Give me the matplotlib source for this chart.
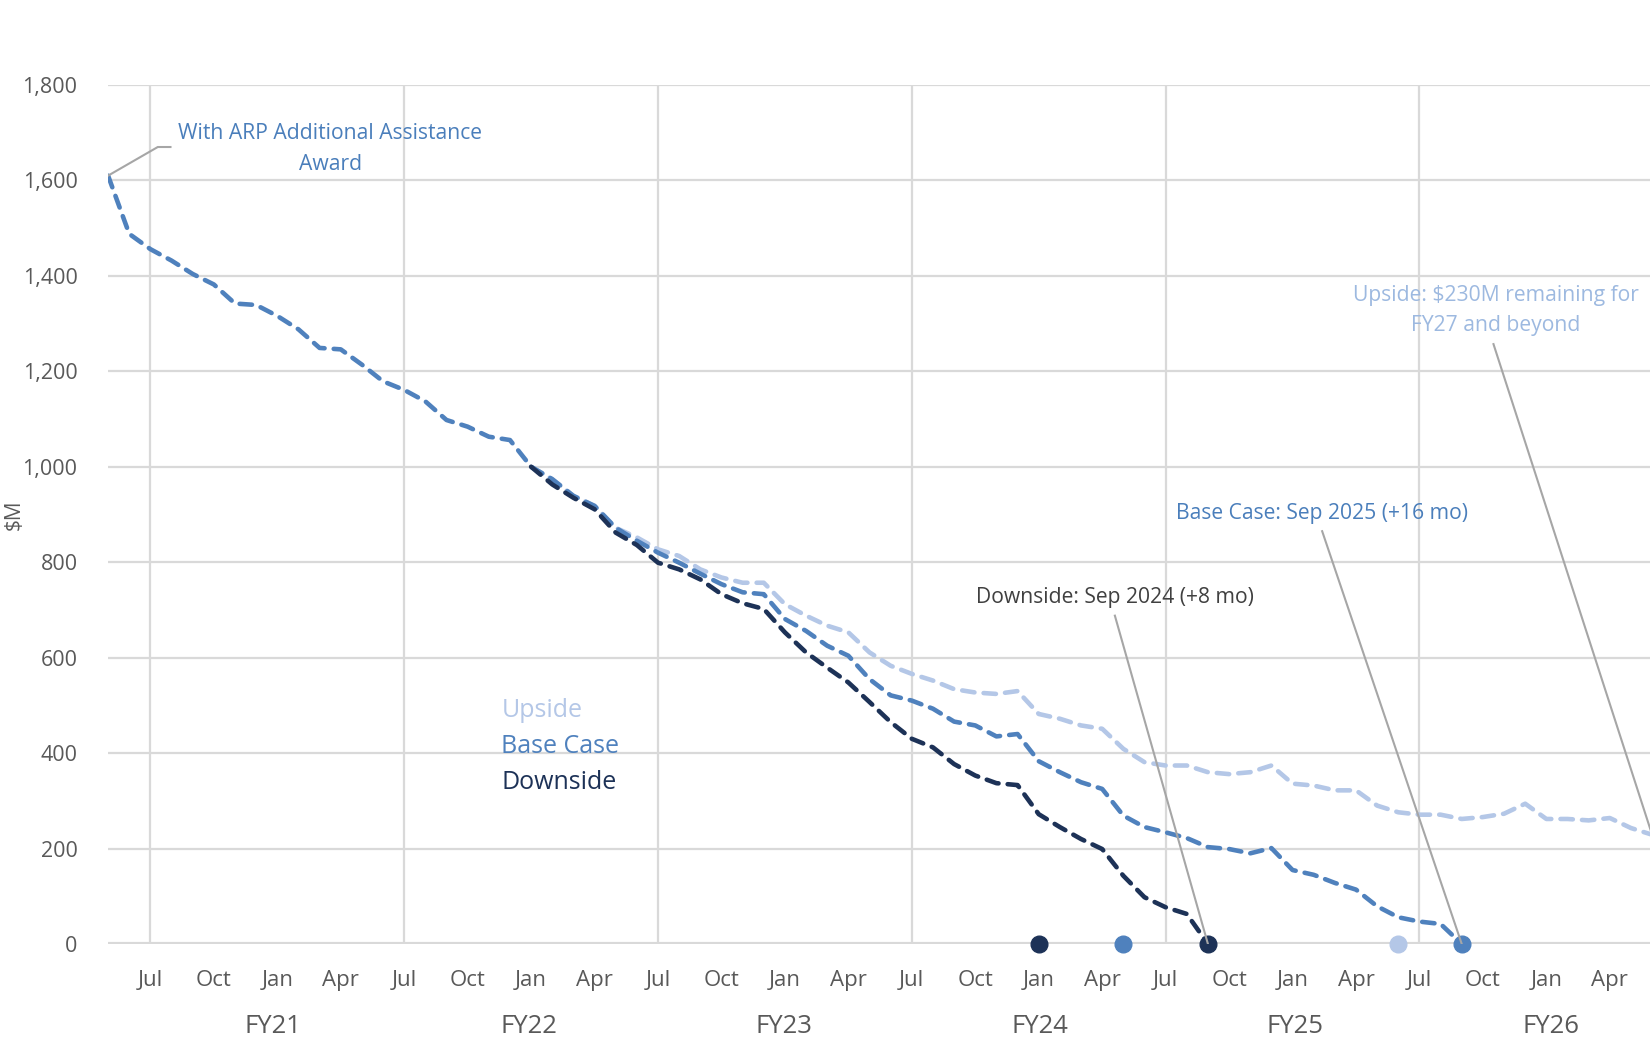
import pandas as pd
import matplotlib.pyplot as plt

plt.rcParams["font.family"] = ["Open Sans", "DejaVu Sans"]

# monthly axis, May 2020 .. Jun 2026
months = pd.period_range("2020-05", "2026-06", freq="M")

base_start = "2020-05"
base = [1610, 1488, 1456, 1432, 1404, 1382, 1342, 1339,
        1316, 1288, 1249, 1246, 1214, 1179, 1161, 1137, 1098, 1084, 1063, 1056,
        1000, 974, 939, 918, 872, 845, 820, 799, 776, 754, 737, 733,
        681, 656, 625, 604, 555, 521, 510, 493, 466, 458, 435, 440,
        383, 360, 339, 325, 269, 245, 234, 222, 203, 199, 190, 201,
        155, 145, 128, 114, 79, 56, 47, 42, 0]

downside_start = "2022-01"
downside = [1000, 963, 935, 911, 862, 836, 799, 785, 764, 733, 714, 702,
            653, 611, 579, 548, 507, 465, 430, 412, 377, 353, 337, 333,
            272, 245, 220, 199, 143, 98, 77, 63, 0]

upside_start = "2022-01"
upside = [1000, 974, 939, 918, 872, 852, 827, 813, 785, 768, 757, 757,
          712, 688, 667, 653, 611, 583, 566, 552, 534, 527, 524, 530,
          482, 472, 458, 451, 409, 381, 374, 374, 360, 356, 360, 374,
          336, 332, 322, 322, 290, 276, 271, 271, 262, 266, 273, 294,
          262, 262, 259, 264, 243, 229]

# original depletion dates (dots on the zero line)
orig_dates = ["2024-01", "2024-05", "2025-06"]
orig_cases = ["downside", "base", "upside"]

tick_labels = ["Jul", "Oct", "Jan", "Apr"]
fy_labels = ["FY21", "FY22", "FY23", "FY24", "FY25", "FY26"]

colors = {"upside": "#B4C7E7", "base": "#4F81BD", "downside": "#1D3257"}


def idx(m):
    return months.get_loc(pd.Period(m, freq="M"))


def xs(start, vals):
    s = idx(start)
    return list(range(s, s + len(vals)))


fig = plt.figure(figsize=(16.5, 10.4), dpi=100)
ax = fig.add_axes([0.0655, 0.0923, 0.9345, 0.826])

series = [("upside", upside_start, upside),
          ("base", base_start, base),
          ("downside", downside_start, downside)]
for name, start, vals in series:
    ax.plot(xs(start, vals), vals, color=colors[name], lw=3.3,
            dashes=(2.7, 2.0), dash_capstyle="round", zorder=3)

# new depletion end points
for name, start, vals in series[1:]:
    ax.plot(xs(start, vals)[-1], vals[-1], "o", ms=12, color=colors[name],
            zorder=5, clip_on=False)

for d, c in zip(orig_dates, orig_cases):
    ax.plot(idx(d), 0, "o", ms=12, color=colors[c], zorder=5, clip_on=False)

ax.set_xlim(0, 72.9)
ax.set_ylim(0, 1800)
ax.set_yticks(range(0, 1801, 200))
ax.set_yticklabels([f"{v:,}" for v in range(0, 1801, 200)])
ax.grid(axis="y", color="#D9D9D9", lw=1.6)

jul_idx = [i for i, p in enumerate(months) if p.month == 7]
ax.vlines(jul_idx, 0, 1800, color="#D9D9D9", lw=1.6, zorder=1)
ax.axhline(0, color="#D9D9D9", lw=3, zorder=2)

q_idx = [i for i, p in enumerate(months) if p.month in (7, 10, 1, 4)]
ax.set_xticks(q_idx)
ax.set_xticklabels([tick_labels[[7, 10, 1, 4].index(months[i].month)] for i in q_idx])
ax.tick_params(axis="x", length=0, pad=19, labelsize=16, labelcolor="#595959")
ax.tick_params(axis="y", length=0, pad=22, labelsize=15.5, labelcolor="#595959")

for k, lab in enumerate(fy_labels):
    ax.text(jul_idx[k] + 5.8 + 0.08 * k, -0.096, lab,
            transform=ax.get_xaxis_transform(),
            ha="center", va="center", fontsize=18.5, color="#595959")

for s in ax.spines.values():
    s.set_visible(False)

ax.set_ylabel("$M", fontsize=15, color="#595959")
ax.yaxis.set_label_coords(-0.0538, 0.5)

# legend as coloured text
for i, (lab, name) in enumerate([("Upside", "upside"), ("Base Case", "base"),
                                  ("Downside", "downside")]):
    ax.text(18.6, 489 - 75 * i, lab, color=colors[name], fontsize=18,
            ha="left", va="center")

# annotations
lead = dict(color="#A6A6A6", lw=1.5)
ax.plot([0, 2.35, 2.95], [1610, 1670, 1670], zorder=4, **lead)
ax.text(10.5, 1666, "With ARP Additional Assistance\nAward", color="#4A7EBB",
        fontsize=15.2, ha="center", va="center", linespacing=1.59)

ax.plot([47.6, idx("2024-09")], [688, 0], zorder=6, **lead)
ax.text(47.6, 726, "Downside: Sep 2024 (+8 mo)", color="#404040",
        fontsize=15.2, ha="center", va="center")

ax.plot([57.4, idx("2025-09")], [865, 0], zorder=6, **lead)
ax.text(57.4, 903, "Base Case: Sep 2025 (+16 mo)", color="#4A7EBB",
        fontsize=15.2, ha="center", va="center")

ax.plot([65.5, 73], [1257, 229], zorder=6, clip_on=False, **lead)
ax.text(65.6, 1328, "Upside: $230M remaining for\nFY27 and beyond", color="#9DB9E0",
        fontsize=15.2, ha="center", va="center", linespacing=1.59)

fig.savefig("out.png", dpi=100)
plt.close(fig)
